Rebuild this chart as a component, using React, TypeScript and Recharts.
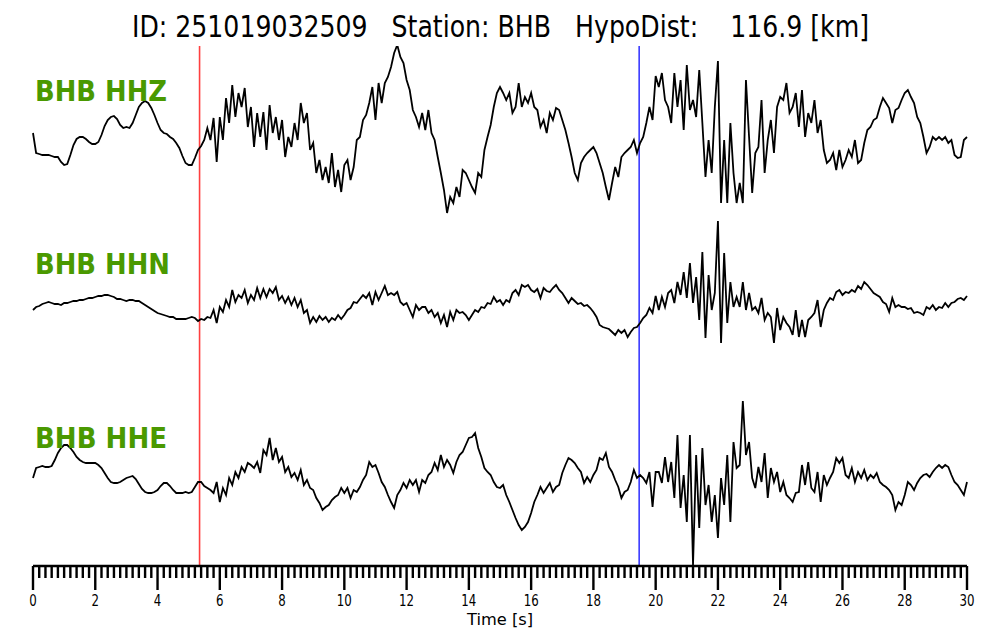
import { LineChart, Line, XAxis, YAxis, ReferenceLine } from "recharts";

// amplitudes, one sample every 0.1 s (0 .. 30 s)
const HHZ = [
  7, -13, -14, -15, -15, -15, -16, -17, -17, -22,
  -25, -24, -15, -5, 1, 3, 3, 1, -2, -4,
  -4, -2, 5, 14, 20, 23, 24, 21, 15, 12,
  13, 12, 17, 25, 33, 37, 39, 37, 32, 25,
  17, 10, 7, 6, 3, 1, -3, -8, -16, -23,
  -25, -25, -18, -10, -6, 0, 12, 0, 22, -22,
  23, 0, 42, 17, 55, 23, 47, 33, 52, 13,
  33, -7, 27, 3, 28, -10, 35, 7, 23, 0,
  20, -17, 3, -7, 17, 0, 37, 17, 27, -10,
  -3, -33, -20, -40, -27, -43, -13, -47, -30, -52,
  -25, -20, -40, -27, 0, 3, 20, 25, 37, 53,
  20, 57, 37, 57, 63, 73, 87, 95, 83, 77,
  60, 50, 30, 23, 13, 27, 10, 30, 7, 0,
  -17, -33, -50, -73, -57, -63, -47, -57, -30, -33,
  -40, -47, -53, -33, -37, -10, 3, 15, 33, 47,
  53, 47, 40, 47, 27, 33, 57, 33, 43, 37,
  47, 33, 30, 13, 20, 7, 27, 20, 32, 30,
  20, 10, -3, -17, -33, -40, -23, -17, -13, -10,
  -7, -13, -23, -33, -47, -60, -43, -27, -37, -17,
  -13, -10, -7, 0, -13, -3, 3, 17, 33, 20,
  64, 53, 67, 40, 33, 17, 67, 33, 60, 10,
  75, 30, 40, 23, 70, 17, -37, 0, -33, 33,
  79, -63, 0, -63, 17, -33, -63, -43, -63, 60,
  3, -53, -13, -7, 40, -33, 0, 20, -13, 33,
  43, 40, 57, 27, 33, 47, 13, 50, 3, 27,
  17, 40, 7, 20, -10, -23, -20, -13, -30, -10,
  -27, -20, -10, -17, 0, -23, -20, -3, 10, 13,
  20, 22, 33, 42, 37, 32, 17, 30, 32, 40,
  47, 50, 43, 37, 23, 17, 3, -13, -7, 3,
  0, 3, 0, 3, -3, 0, -15, -18, -17, 0,
  3,
];

const HHN = [
  -5, -2, -1, 1, 2, 3, 2, 1, 1, 0,
  2, 2, 3, 4, 4, 5, 5, 6, 7, 7,
  8, 9, 9, 10, 10, 9, 8, 6, 6, 5,
  4, 5, 5, 4, 4, 2, 0, -2, -4, -6,
  -8, -9, -10, -11, -12, -12, -14, -14, -14, -14,
  -13, -12, -13, -16, -14, -15, -12, -13, -5, -18,
  -2, -7, 5, -2, 15, 3, 10, 7, 15, 2,
  10, 5, 17, 7, 16, 8, 16, 12, 18, 5,
  9, 2, 8, 0, 7, -2, 5, -8, -5, -18,
  -12, -17, -11, -15, -12, -17, -13, -15, -10, -14,
  -10, -5, -3, 3, 2, 6, 10, 7, 12, 0,
  13, 5, 12, 19, 10, 12, 10, 13, 3, 0,
  2, -5, -12, 0, -5, -2, -2, -8, -5, -12,
  -8, -18, -10, -22, -7, -15, -5, -8, -7, -10,
  -15, -10, -5, -7, -2, -3, 2, 1, 8, 3,
  5, 0, 5, 3, 12, 15, 10, 20, 18, 20,
  15, 13, 16, 7, 17, 14, 13, 17, 20, 15,
  12, 7, 2, 7, 4, 1, 2, -1, 0, -3,
  -7, -12, -20, -22, -23, -24, -27, -30, -25, -28,
  -25, -32, -27, -23, -22, -18, -13, -10, -3, -8,
  9, -5, 8, -2, 12, 15, 2, 23, 10, 33,
  7, 42, 2, 28, -15, 53, -33, 30, -5, 12,
  84, -38, 52, -18, 23, -2, 8, -2, 23, -5,
  12, -5, -2, -8, 7, -15, -8, -12, -38, -3,
  -25, -12, -18, -22, -30, -5, -32, -15, -32, -15,
  -12, -8, 5, -22, -5, 2, 7, 5, 13, 15,
  10, 13, 12, 15, 13, 19, 16, 23, 20, 16,
  12, 10, 8, 3, 1, -7, 7, -2, 0, -2,
  -2, -4, -3, -8, -7, -8, -10, -2, -4, 0,
  -5, -2, -3, 2, -2, 2, 3, 6, 7, 5,
  9,
];

const HHE = [
  2, 12, 13, 14, 13, 13, 14, 20, 27, 32,
  35, 35, 32, 28, 23, 20, 18, 17, 17, 17,
  17, 15, 12, 7, 2, -2, -3, -3, -2, 0,
  2, 3, 4, 1, -4, -9, -12, -13, -13, -12,
  -10, -6, -3, -3, -6, -10, -13, -13, -13, -12,
  -13, -12, -7, -2, -2, -6, -8, -10, -13, -2,
  -22, -8, -15, 2, -5, 8, 2, 13, 8, 17,
  15, 12, 18, 7, 30, 25, 42, 20, 32, 18,
  23, 8, 13, 3, 7, 0, 10, -5, 0, -8,
  -10, -18, -23, -30, -27, -25, -20, -17, -15, -8,
  -13, -8, -18, -10, -12, -7, 0, 5, 18, 13,
  15, 7, -2, -7, -15, -22, -28, -15, -10, -3,
  -8, 0, -5, 0, -12, 0, -3, 5, 8, 17,
  10, 25, 13, 20, 15, 7, 18, 25, 28, 35,
  42, 43, 47, 32, 23, 12, 8, 5, -2, -7,
  -8, -5, -15, -22, -30, -38, -45, -50, -47, -42,
  -33, -22, -15, -7, -13, -8, -3, -12, -7, -5,
  7, 15, 22, 20, 17, 12, 8, -3, 3, -2,
  5, 10, 22, 20, 27, 13, 8, 0, -7, -18,
  -12, -10, -2, 10, 2, 5, 2, -3, 8, -27,
  8, 8, -3, 23, -2, 18, -18, 45, -28, 5,
  -42, 45, -85, 25, -48, 32, -25, -5, -42, -15,
  -58, 2, -25, 25, -42, 38, 12, 15, 79, 25,
  38, 2, -8, 13, -2, 27, -18, 12, -2, 8,
  -12, -2, -15, -18, -22, -13, -12, 15, -5, 18,
  -8, -12, 8, -22, 5, -5, 2, 8, 22, 17,
  22, 5, 2, 12, -2, 8, 2, 10, 0, 5,
  2, 7, -2, -5, -7, -10, -15, -30, -22, -25,
  -15, -2, -5, -10, -3, 2, 5, 6, 3, 8,
  12, 15, 12, 15, 13, 5, -2, -5, -10, -15,
  -2,
];

const MAJOR_TICKS = [0, 2, 4, 6, 8, 10, 12, 14, 16, 18, 20, 22, 24, 26, 28, 30];
const CHANNELS = ["BHB HHZ", "BHB HHN", "BHB HHE"];
const TITLE = "ID: 251019032509   Station: BHB   HypoDist:    116.9 [km]";
const P_PICK = 5.35;
const S_PICK = 19.47;

// vertical stacking of the three traces
const SHIFT = [-140, -305, -480];
const LABEL_Y = [101, 274, 448];
const LABEL_W = [132, 135, 132];

const data = HHZ.map((z, i) => ({
  t: i / 10,
  z: z + SHIFT[0],
  n: HHN[i] + SHIFT[1],
  e: HHE[i] + SHIFT[2],
}));

const minorTicks = Array.from({ length: 151 }, (_, i) => i / 5);

function TimeTick(props: any) {
  const { x, y, payload } = props;
  const v = payload.value;
  const major = MAJOR_TICKS.includes(v);
  const label = String(v);
  return (
    <g>
      <line x1={x} x2={x} y1={y} y2={y + (major ? 24 : 12)} stroke="#000" strokeWidth={2.4} />
      {major && (
        <text
          x={x}
          y={y + 40}
          textAnchor="middle"
          fontSize={16}
          fontFamily="DejaVu Sans"
          fill="#000"
          textLength={7.5 * label.length}
          lengthAdjust="spacingAndGlyphs"
        >
          {label}
        </text>
      )}
    </g>
  );
}

export default function App() {
  return (
    <div style={{ position: "absolute", left: 0, top: 0, width: 1000, height: 640, background: "#fff" }}>
      <LineChart
        width={1000}
        height={640}
        data={data}
        margin={{ top: 46, right: 33, bottom: 14, left: 33 }}
      >
        <XAxis
          xAxisId="top"
          orientation="top"
          dataKey="t"
          type="number"
          domain={[0, 30]}
          height={0}
          tick={false}
          tickLine={false}
          axisLine={{ stroke: "#000", strokeWidth: 1.5 }}
        />
        <XAxis
          dataKey="t"
          type="number"
          domain={[0, 30]}
          ticks={minorTicks}
          interval={0}
          height={60}
          tickSize={0}
          tickMargin={0}
          tickLine={false}
          axisLine={{ stroke: "#000", strokeWidth: 2.4 }}
          tick={<TimeTick />}
        />
        <YAxis hide type="number" domain={[-566, -46]} allowDataOverflow />
        <ReferenceLine x={P_PICK} stroke="#ff4040" strokeWidth={1.6} />
        <ReferenceLine x={S_PICK} stroke="#3b3bff" strokeWidth={1.6} />
        <Line dataKey="z" type="linear" stroke="#000" strokeWidth={1.8} dot={false} isAnimationActive={false} />
        <Line dataKey="n" type="linear" stroke="#000" strokeWidth={1.8} dot={false} isAnimationActive={false} />
        <Line dataKey="e" type="linear" stroke="#000" strokeWidth={1.8} dot={false} isAnimationActive={false} />
      </LineChart>
      <svg
        width={1000}
        height={640}
        style={{ position: "absolute", left: 0, top: 0, pointerEvents: "none" }}
      >
        <text
          x={132}
          y={37}
          fontSize={31}
          fontFamily="DejaVu Sans"
          fill="#000"
          textLength={737}
          lengthAdjust="spacingAndGlyphs"
          style={{ whiteSpace: "pre" }}
        >
          {TITLE}
        </text>
        {CHANNELS.map((c, i) => (
          <text
            key={c}
            x={35}
            y={LABEL_Y[i]}
            fontSize={29}
            fontWeight="bold"
            fontFamily="DejaVu Sans"
            fill="#4a9900"
            textLength={LABEL_W[i]}
            lengthAdjust="spacingAndGlyphs"
            style={{ whiteSpace: "pre" }}
          >
            {c}
          </text>
        ))}
        <text
          x={500}
          y={625}
          textAnchor="middle"
          fontSize={16}
          fontFamily="DejaVu Sans"
          fill="#000"
          textLength={66}
          lengthAdjust="spacingAndGlyphs"
        >
          Time [s]
        </text>
      </svg>
    </div>
  );
}
